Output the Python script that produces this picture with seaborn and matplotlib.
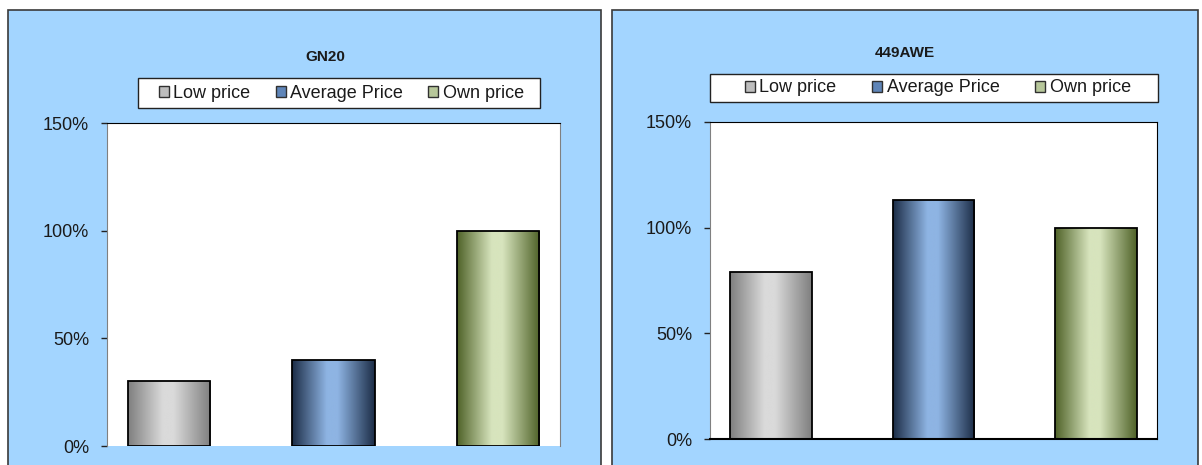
import numpy as np
import pandas as pd
import matplotlib
matplotlib.use('Agg')
import matplotlib.pyplot as plt
import seaborn as sns
from matplotlib.patches import Rectangle, Patch
from matplotlib.colors import LinearSegmentedColormap
from matplotlib.ticker import PercentFormatter

categories = ['Low price', 'Average Price', 'Own price']
gn20_values = [0.30, 0.40, 1.00]
awe449_values = [0.79, 1.13, 1.00]
titles = ['GN20', '449AWE']

dark_cols = ['#7f7f7f', '#1c2d47', '#4f6228']
light_cols = ['#dadada', '#8eb4e3', '#d7e4bd']
panel_col = '#A3D5FF'

sns.set_style('white')
plt.rcParams['font.family'] = ['Liberation Sans', 'DejaVu Sans']

fig = plt.figure(figsize=(12.02, 4.65), dpi=100)
W, H = 1202, 465


def px(x0, y0, x1, y1):
    # pixel box (top-left origin) -> figure fraction rect
    return [x0 / W, (H - y1) / H, (x1 - x0) / W, (y1 - y0) / H]


# light blue chart panels
for x0, x1 in [(8, 601), (612, 1198)]:
    fig.patches.append(Rectangle((x0 / W, -0.1), (x1 - x0) / W, (H - 10) / H + 0.1,
                                 transform=fig.transFigure, facecolor=panel_col,
                                 edgecolor='#3a3a3a', linewidth=1.2, zorder=-5))

panels = [
    dict(vals=gn20_values, title=titles[0], ax=px(107, 123, 560, 446),
         tx=325, ty=57, box=(138, 78, 540, 108), inner=(159, 524), bottom=False),
    dict(vals=awe449_values, title=titles[1], ax=px(710, 122, 1157, 439),
         tx=905, ty=53, box=(710, 74, 1158, 102), inner=(745, 1131), bottom=True),
]

for p in panels:
    ax = fig.add_axes(p['ax'])
    df = pd.DataFrame({'cat': categories, 'val': p['vals']})
    sns.barplot(data=df, x='cat', y='val', hue='cat', palette=light_cols,
                width=0.5, edgecolor='black', linewidth=1.3, legend=False, ax=ax)
    ax.set_facecolor('white')
    ax.set_yticks([0, 0.5, 1.0, 1.5])
    ax.yaxis.set_major_formatter(PercentFormatter(1.0, decimals=0))
    ax.set_xticks([])
    ax.set_xlabel('')
    ax.set_ylabel('')
    ax.tick_params(axis='y', direction='out', length=4.5, width=1, color='#222222',
                   labelsize=13, labelcolor='#1a1a1a', pad=8.5, left=True)
    ax.spines['left'].set_color('#808080')
    ax.spines['right'].set_color('#808080' if not p['bottom'] else 'black')
    ax.spines['top'].set_color('black')
    ax.spines['bottom'].set_visible(p['bottom'])
    ax.spines['bottom'].set_color('black')
    ax.spines['bottom'].set_linewidth(1.5)

    # horizontal gradient inside each bar
    grad = np.linspace(0, 1, 256).reshape(1, -1)
    for patch, dc, lc in zip(ax.patches, dark_cols, light_cols):
        cmap = LinearSegmentedColormap.from_list(
            'g', [(0, dc), (0.42, lc), (0.55, lc), (1, dc)])
        bx, by = patch.get_x(), patch.get_y()
        bw, bh = patch.get_width(), patch.get_height()
        im = ax.imshow(grad, cmap=cmap, aspect='auto', extent=(bx, bx + bw, by, by + bh),
                       zorder=patch.get_zorder() - 0.1)
        im.set_clip_path(patch)
        patch.set_facecolor('none')
    ax.set_xlim(-0.375, 2.375)
    ax.set_ylim(0, 1.5)

    fig.text(p['tx'] / W, 1 - p['ty'] / H, p['title'], ha='center', va='center',
             fontsize=11, fontweight='bold', color='#1a1a1a')

    # legend frame + entries
    bx0, by0, bx1, by1 = p['box']
    fig.patches.append(Rectangle(((bx0) / W, (H - by1) / H), (bx1 - bx0) / W,
                                 (by1 - by0) / H, transform=fig.transFigure,
                                 facecolor='white', edgecolor='#222222', linewidth=1.0,
                                 zorder=-1))
    handles = [Patch(facecolor=c, edgecolor='#303030', linewidth=1) for c in
               ['#bdbdbd', '#5f85b8', '#b7c79a']]
    ix0, ix1 = p['inner']
    fig.legend(handles, categories, loc='center left',
               bbox_to_anchor=px(ix0, by0, ix1, by1), mode='expand', ncol=3,
               fontsize=13, frameon=False, handlelength=0.55, handleheight=0.55,
               handletextpad=0.25, borderpad=0, borderaxespad=0, columnspacing=1.0,
               labelcolor='#1a1a1a')

fig.savefig('out.png', dpi=100, facecolor='white')
